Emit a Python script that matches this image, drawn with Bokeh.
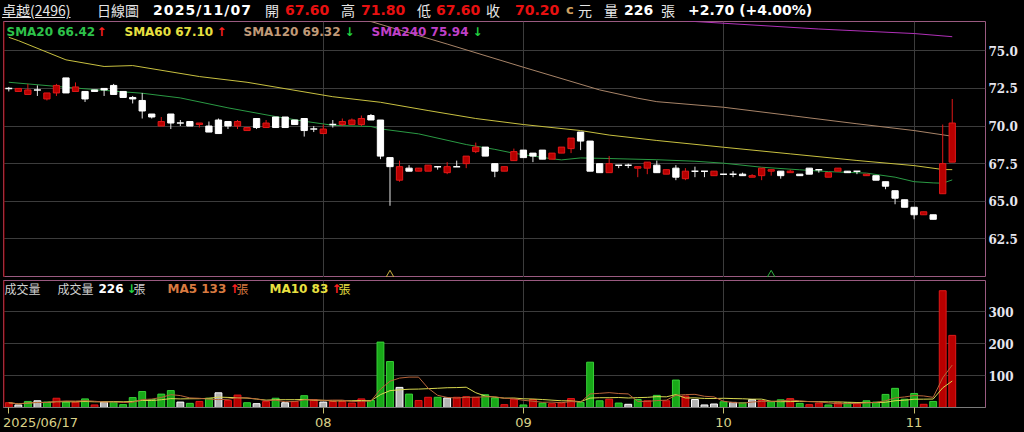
import pandas as pd
from bokeh.plotting import figure
from bokeh.layouts import column
from bokeh.models import (Range1d, FixedTicker, Label, Div, Span, Grid,
                          ColumnDataSource, PrintfTickFormatter)
from bokeh.embed import file_html
from bokeh.resources import INLINE

# ---------------- data ----------------
opens = [72.5, 72.3, 72.1, 72.4, 71.8, 72.2, 73.2, 72.3, 72.3, 72.4,
         72.5, 72.7, 72.3, 71.9, 71.7, 70.8, 70.0, 70.8, 70.2, 70.3,
         70.1, 70.0, 70.4, 70.3, 70.0, 69.7, 70.5, 69.9, 70.6, 70.6,
         70.4, 70.5, 69.8, 69.5, 70.1, 70.1, 70.1, 70.1, 70.7, 70.4,
         67.9, 66.4, 67.2, 67.0, 67.0, 67.3, 66.9, 67.3, 67.5, 68.3,
         68.6, 67.5, 67.0, 67.7, 68.4, 68.2, 68.4, 67.8, 68.2, 68.5,
         69.6, 69.0, 67.5, 66.9, 67.4, 67.4, 67.2, 67.2, 67.4, 66.8,
         67.2, 66.5, 67.0, 67.0, 66.7, 66.8, 66.8, 66.8, 66.6, 66.7,
         67.0, 67.0, 66.9, 66.8, 67.2, 67.1, 66.6, 67.0, 67.0, 67.0,
         66.7, 66.7, 66.3, 65.7, 65.1, 64.6, 64.1, 64.1, 65.5, 67.6]
highs = [72.6, 72.5, 72.8, 72.7, 72.2, 72.8, 73.2, 72.9, 72.3, 72.4,
         72.5, 72.8, 72.3, 72.0, 72.2, 70.8, 70.6, 70.8, 70.4, 70.3,
         70.2, 70.3, 70.5, 70.3, 70.4, 69.9, 70.5, 70.4, 70.6, 70.6,
         70.4, 70.5, 70.0, 70.1, 70.4, 70.5, 70.5, 70.7, 70.8, 70.4,
         67.9, 67.7, 67.4, 67.2, 67.4, 67.3, 67.6, 67.7, 68.0, 68.9,
         68.6, 67.5, 67.3, 68.5, 68.4, 68.2, 68.4, 68.2, 68.6, 69.2,
         69.6, 69.0, 67.5, 68.0, 67.4, 67.5, 67.3, 67.6, 67.7, 67.1,
         67.4, 67.2, 67.3, 67.0, 67.0, 66.8, 67.0, 66.9, 66.8, 67.2,
         67.1, 67.0, 67.1, 66.8, 67.2, 67.1, 66.9, 67.2, 67.0, 67.0,
         66.8, 66.7, 66.3, 65.7, 65.1, 64.6, 64.3, 64.1, 70.1, 71.8]
lows = [72.3, 72.3, 72.1, 72.0, 71.7, 72.0, 72.2, 72.3, 71.6, 72.3,
        72.0, 72.1, 71.9, 71.5, 70.5, 70.5, 70.0, 69.8, 70.0, 70.0,
        69.9, 69.6, 69.5, 69.8, 69.8, 69.7, 69.8, 69.9, 69.9, 69.9,
        70.1, 69.3, 69.6, 69.5, 69.9, 70.0, 70.1, 70.0, 70.4, 67.8,
        64.7, 66.3, 67.0, 67.0, 67.0, 67.1, 66.8, 67.3, 67.2, 68.2,
        68.0, 66.6, 67.0, 67.7, 67.9, 67.6, 67.8, 67.8, 68.2, 68.2,
        68.4, 67.0, 66.9, 66.9, 67.2, 67.2, 66.6, 66.8, 66.9, 66.8,
        66.4, 66.4, 66.6, 66.6, 66.7, 66.8, 66.6, 66.7, 66.6, 66.4,
        66.7, 66.5, 66.9, 66.7, 66.8, 66.9, 66.6, 67.0, 66.9, 66.8,
        66.7, 66.4, 65.8, 64.8, 64.6, 63.8, 64.1, 63.8, 65.5, 67.6]
closes = [72.5, 72.5, 72.4, 72.4, 72.2, 72.7, 72.2, 72.6, 71.8, 72.3,
          72.4, 72.1, 71.9, 71.8, 71.0, 70.6, 70.3, 70.2, 70.2, 70.0,
          70.2, 69.6, 69.5, 70.0, 70.3, 69.9, 69.9, 70.2, 69.9, 69.9,
          70.1, 69.7, 69.8, 69.8, 70.1, 70.3, 70.4, 70.5, 70.4, 68.0,
          67.3, 67.3, 67.0, 67.2, 67.4, 67.3, 67.3, 67.3, 68.0, 68.6,
          68.0, 67.0, 67.3, 68.3, 67.9, 68.0, 67.8, 68.2, 68.6, 69.2,
          69.0, 67.0, 66.9, 67.5, 67.4, 67.4, 67.3, 67.6, 66.9, 67.1,
          66.6, 67.0, 67.0, 67.0, 67.0, 66.8, 66.8, 66.7, 66.7, 67.2,
          67.1, 66.7, 67.0, 66.7, 66.8, 67.1, 66.9, 67.2, 66.9, 67.0,
          66.8, 66.4, 66.0, 65.2, 64.6, 64.1, 64.3, 63.8, 67.5, 70.2]
volumes = [15, 8, 19, 21, 17, 29, 17, 17, 27, 8,
           17, 17, 9, 31, 50, 25, 42, 53, 17, 13,
           19, 29, 46, 22, 39, 15, 12, 19, 29, 15,
           19, 37, 24, 17, 19, 19, 14, 27, 22, 205,
           144, 63, 42, 22, 32, 32, 30, 32, 34, 32,
           40, 30, 9, 26, 8, 25, 14, 12, 15, 28,
           16, 142, 21, 26, 14, 10, 25, 21, 38, 21,
           86, 36, 25, 8, 11, 18, 16, 15, 25, 22,
           18, 24, 28, 13, 9, 14, 8, 15, 15, 12,
           21, 17, 41, 60, 26, 44, 10, 19, 366, 226]
# u = up vs previous close (red), d = down (green), f = flat (grey)
vol_dir = list("ufdfdududu" + "fdddddddfd" + "udfuudfudf" + "udufuuuudd"
               + "dfduudfuuu" + "dduududuuu" + "dddudfdudu" + "dufffdfdfu"
               + "dduduududu" + "dddddduduu")

# moving-average lines: (bar index, price)
sma20_x = [0, 6, 11, 14, 18, 23, 28, 31, 34, 38, 39, 43, 48, 51, 53, 57, 58,
           60, 63, 68, 72, 75, 79, 83, 86, 90, 93, 95, 97, 98, 99]
sma20_y = [72.91, 72.58, 72.32, 72.18, 71.87, 71.21, 70.63, 70.32, 70.05,
           69.97, 69.81, 69.48, 68.77, 68.45, 68.19, 67.82, 67.75, 67.88,
           67.84, 67.76, 67.66, 67.53, 67.26, 67.09, 66.97, 66.87, 66.6,
           66.3, 66.22, 66.2, 66.42]
sma60_x = [0, 1, 6, 10, 13, 20, 25, 34, 39, 44, 49, 54, 60, 63, 68, 75, 82,
           89, 95, 98, 99]
sma60_y = [75.9, 75.68, 74.4, 73.96, 74.02, 73.29, 72.91, 71.95, 71.58,
           71.03, 70.5, 70.1, 69.7, 69.4, 69.04, 68.59, 68.15, 67.71, 67.37,
           67.11, 67.1]
sma120_x = [36, 38, 46, 54, 62, 66, 68, 75, 82, 89, 95, 99]
sma120_y = [77.3, 76.95, 75.45, 73.91, 72.4, 71.85, 71.62, 71.25, 70.7, 70.15,
            69.7, 69.32]
sma240_x = [70, 72, 85, 95, 99]
sma240_y = [77.05, 76.95, 76.45, 76.15, 75.94]

month_ticks = [0, 33, 54, 75, 95]
month_labels = ["2025/06/17", "08", "09", "10", "11"]
price_ticks = [62.5, 65.0, 67.5, 70.0, 72.5, 75.0]
vol_ticks = [100, 200, 300]
signal_x = [40, 80]
signal_colors = ["#c8b040", "#30b040"]

# ---------------- derived sources ----------------
idx = list(range(len(opens)))
df = pd.DataFrame(dict(x=idx, o=opens, h=highs, l=lows, c=closes, v=volumes,
                       d=vol_dir))
df["top"] = df[["o", "c"]].max(axis=1)
df["bot"] = df[["o", "c"]].min(axis=1)
up = df[df.c > df.o]
dn = df[df.c < df.o]
dj = df[df.c == df.o]
ma5 = df.v.rolling(5, min_periods=1).mean()
ma10 = df.v.rolling(10, min_periods=1).mean()

BG = "#000000"
RED_F, RED_L = "#b80000", "#e01818"
X0, X1 = -0.556, 102.49
FRAME = "#9a5a80"
GRID = "#3c3c3c"
AXFONT = "DejaVu Serif"

# ---------------- header ----------------
def span(x, text, color, size=14, bold=False, font="'Noto Sans CJK TC'", extra=""):
    w = "bold" if bold else "normal"
    return (f'<span style="position:absolute;left:{x}px;top:0px;line-height:20px;'
            f'white-space:nowrap;color:{color};font-size:{size}px;font-weight:{w};'
            f'font-family:{font};{extra}">{text}</span>')

NUM = "'DejaVu Sans'"
parts = [
    span(2, "卓越(2496)", "#e6e6e6", 14, extra="text-decoration:underline;"),
    span(97, "日線圖", "#e6e6e6", 14),
    span(153, "2025/11/07", "#ffffff", 14, True, NUM, "letter-spacing:1.1px;"),
    span(265, "開", "#e6e6e6", 14),
    span(285, "67.60", "#e81010", 14, True, NUM),
    span(341, "高", "#e6e6e6", 14),
    span(361, "71.80", "#e81010", 14, True, NUM),
    span(417, "低", "#e6e6e6", 14),
    span(436, "67.60", "#e81010", 14, True, NUM),
    span(486, "收", "#e6e6e6", 14),
    span(515, "70.20", "#e81010", 14, True, NUM),
    span(566, "c", "#d0a060", 13, True, NUM),
    span(578, "元", "#e6e6e6", 14),
    span(604, "量", "#e6e6e6", 14),
    span(624, "226", "#ffffff", 14, True, NUM),
    span(661, "張", "#e6e6e6", 14),
    span(688, "+2.70 (+4.00%)", "#ffffff", 14, True, NUM),
]
header = Div(text='<div style="position:relative;width:1024px;height:21px;'
                  'background:#000;overflow:hidden;">' + "".join(parts) + '</div>',
             width=1024, height=21, margin=(0, 0, 0, 0),
             styles={"background-color": "#000000", "overflow": "hidden"})


def style_yaxis(a):
    a.axis_line_color = None
    a.major_tick_line_color = None
    a.minor_tick_line_color = None
    a.major_tick_out = 0
    a.major_tick_in = 0
    a.minor_tick_out = 0
    a.major_label_standoff = 3
    a.major_label_text_color = "#e6e6ee"
    a.major_label_text_font = AXFONT
    a.major_label_text_font_style = "bold"
    a.major_label_text_font_size = "12px"


# ---------------- price panel ----------------
p = figure(width=1024, height=256, x_range=Range1d(X0, X1),
           y_range=Range1d(59.93, 76.95), output_backend="svg",
           toolbar_location=None, x_axis_location=None, y_axis_location="right",
           min_border_left=3, min_border_right=39, min_border_top=0,
           min_border_bottom=0, background_fill_color=BG, border_fill_color=BG,
           outline_line_color=FRAME)
p.grid.visible = False
p.add_layout(Grid(dimension=1, ticker=FixedTicker(ticks=price_ticks),
                  grid_line_color=GRID))
p.add_layout(Grid(dimension=0, ticker=FixedTicker(ticks=month_ticks[1:]),
                  grid_line_color=GRID))
ax = p.yaxis[0]
ax.ticker = FixedTicker(ticks=price_ticks)
ax.formatter = PrintfTickFormatter(format="%.1f")
style_yaxis(ax)

p.line(sma240_x, sma240_y, line_color="#b030b8", line_width=1)
p.line(sma120_x, sma120_y, line_color="#a88468", line_width=1)
p.line(sma60_x, sma60_y, line_color="#c8c040", line_width=1)
p.line(sma20_x, sma20_y, line_color="#2a9a44", line_width=1)

p.segment(x0="x", y0="l", x1="x", y1="h", source=ColumnDataSource(up),
          line_color=RED_L, line_width=1)
p.segment(x0="x", y0="l", x1="x", y1="h", source=ColumnDataSource(dn),
          line_color="#e8e8e8", line_width=1)
p.segment(x0="x", y0="l", x1="x", y1="h", source=ColumnDataSource(dj),
          line_color="#e8e8e8", line_width=1)
p.vbar(x="x", width=0.66, top="top", bottom="bot", source=ColumnDataSource(up),
       fill_color=RED_F, line_color=RED_L)
p.vbar(x="x", width=0.66, top="top", bottom="bot", source=ColumnDataSource(dn),
       fill_color="#ffffff", line_color="#ffffff")
djs = ColumnDataSource(dict(x0=[v - 0.36 for v in dj.x], x1=[v + 0.36 for v in dj.x],
                            y=list(dj.c)))
p.segment(x0="x0", y0="y", x1="x1", y1="y", source=djs, line_color="#ffffff",
          line_width=1.5)
p.scatter(signal_x, [60.1] * len(signal_x), marker="triangle", size=8,
          fill_alpha=0, line_color=signal_colors, line_width=1)
p.add_layout(Span(location=X0, dimension="height", line_color="#a00000",
                  line_width=2))


def lab(fig, x, y, text, color, size="12px", bold=True, font="DejaVu Sans"):
    fig.add_layout(Label(x=x, y=y, x_units="screen", y_units="screen", text=text,
                         text_color=color, text_font_size=size,
                         text_font_style="bold" if bold else "normal",
                         text_font=font, text_baseline="middle",
                         text_align="left"))

LY = 245.5
lab(p, 3, LY, "SMA20 66.42", "#2ec24a")
lab(p, 93, LY, "↑", "#ff2020")
lab(p, 121, LY, "SMA60 67.10", "#e8e040")
lab(p, 213, LY, "↑", "#ff2020")
lab(p, 240, LY, "SMA120 69.32", "#c09a78")
lab(p, 341, LY, "↓", "#20d040")
lab(p, 368, LY, "SMA240 75.94", "#c040c8")
lab(p, 469, LY, "↓", "#20d040")

# ---------------- volume panel ----------------
v = figure(width=1024, height=155, x_range=p.x_range, y_range=Range1d(0, 398),
           output_backend="svg", toolbar_location=None, y_axis_location="right",
           min_border_left=3, min_border_right=39, min_border_top=3,
           min_border_bottom=24, background_fill_color=BG, border_fill_color=BG,
           outline_line_color=FRAME)
v.grid.visible = False
v.add_layout(Grid(dimension=1, ticker=FixedTicker(ticks=vol_ticks),
                  grid_line_color=GRID))
v.add_layout(Grid(dimension=0, ticker=FixedTicker(ticks=month_ticks[1:]),
                  grid_line_color=GRID))
vy = v.yaxis[0]
vy.ticker = FixedTicker(ticks=vol_ticks)
style_yaxis(vy)
vx = v.xaxis[0]
vx.ticker = FixedTicker(ticks=month_ticks)
# first label sits against the left edge (Bokeh keeps it inside the canvas)
first_label = "\u2009" + month_labels[0]
vx.major_label_overrides = {t: (lab_ if i else first_label) for i, (t, lab_) in
                            enumerate(zip(month_ticks, month_labels))}
vx.axis_line_color = "#7a7a7a"
vx.major_tick_line_color = "#c8c070"
vx.major_tick_out = 6
vx.major_tick_in = 0
vx.minor_tick_line_color = None
vx.minor_tick_out = 0
vx.major_label_standoff = 1
vx.major_label_text_color = "#d8d088"
vx.major_label_text_font = "DejaVu Sans"
vx.major_label_text_font_size = "13px"

vcol = {"u": (RED_F, RED_L), "d": ("#18a818", "#38d038"), "f": ("#b4b4b4", "#ffffff")}
vsrc = ColumnDataSource(dict(x=idx, v=volumes,
                             fc=[vcol[k][0] for k in vol_dir],
                             lc=[vcol[k][1] for k in vol_dir]))
v.vbar(x="x", width=0.72, top="v", bottom=0, source=vsrc, fill_color="fc",
       line_color="lc")
v.line(idx, list(ma10), line_color="#d8d850", line_width=1)
v.line(idx, list(ma5), line_color="#b8643a", line_width=1)
v.add_layout(Span(location=X0, dimension="height", line_color="#a00000",
                  line_width=2))

VY = 119
lab(v, 1, VY, "成交量", "#d0d0d0", "12px", False, "Noto Sans CJK TC")
lab(v, 54, VY, "成交量", "#d0d0d0", "12px", False, "Noto Sans CJK TC")
lab(v, 95, VY, "226", "#ffffff")
lab(v, 123, VY, "↓", "#20d040")
lab(v, 130, VY, "張", "#d0d0d0", "12px", False, "Noto Sans CJK TC")
lab(v, 164, VY, "MA5 133", "#d87a40")
lab(v, 226, VY, "↑", "#ff2020")
lab(v, 233, VY, "張", "#d87a40", "12px", False, "Noto Sans CJK TC")
lab(v, 266, VY, "MA10 83", "#e8e040")
lab(v, 328, VY, "↑", "#ff2020")
lab(v, 335, VY, "張", "#e8e040", "12px", False, "Noto Sans CJK TC")

layout = column(header, p, v, spacing=0,
                styles={"background-color": "#000000"})
open("out.html", "w").write(file_html(layout, INLINE))
